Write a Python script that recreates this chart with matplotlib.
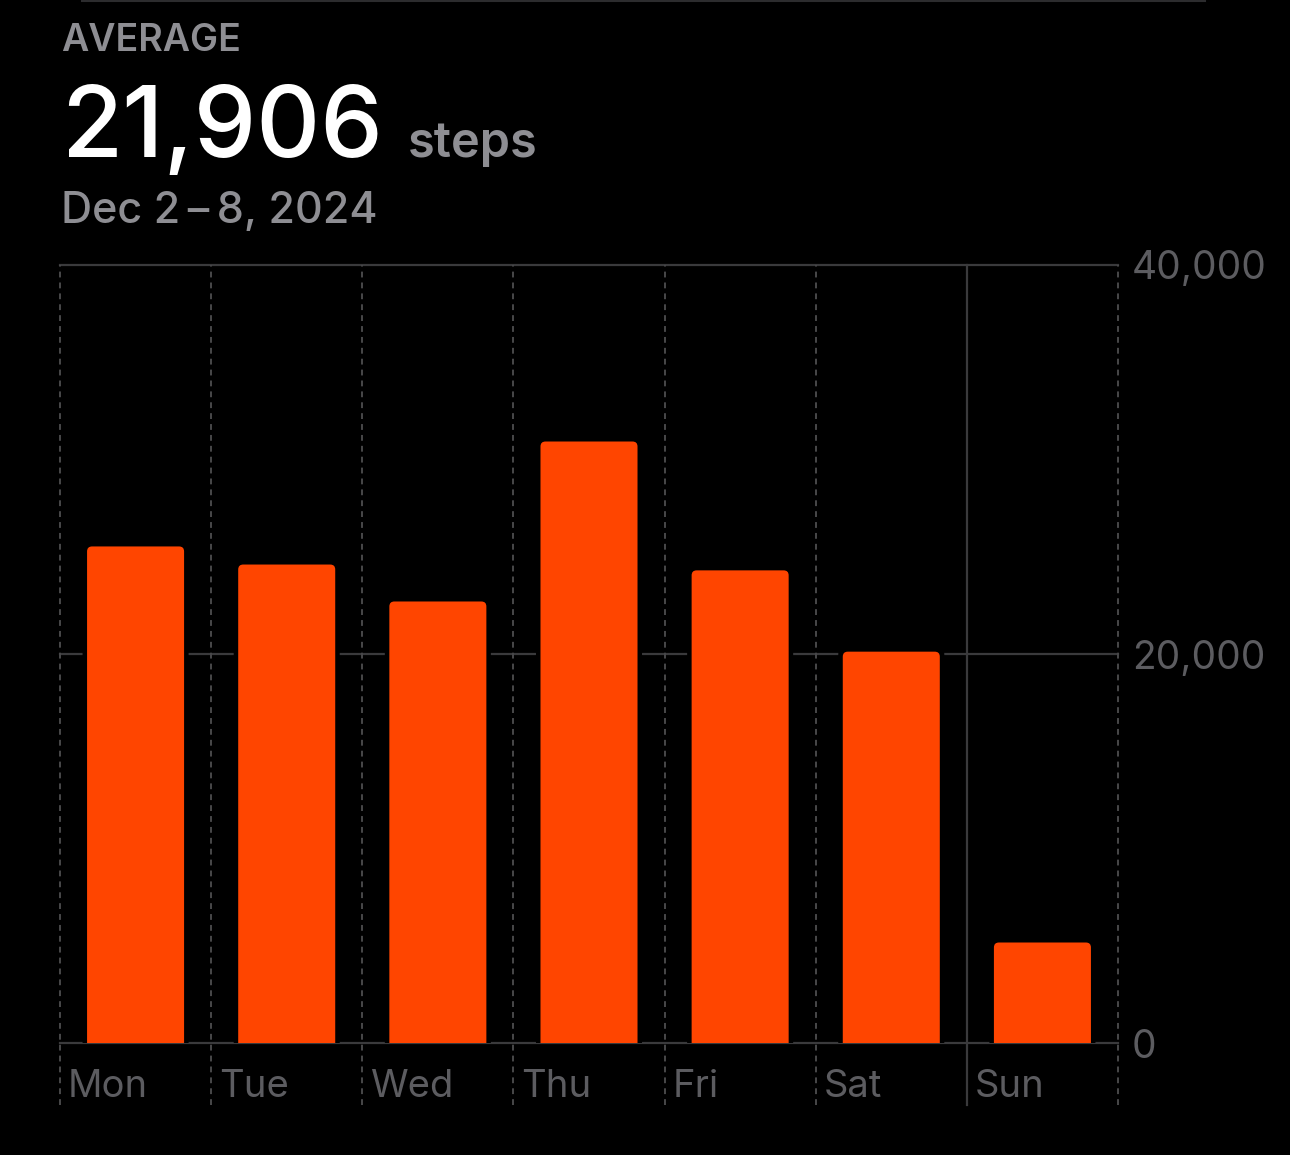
import matplotlib
matplotlib.use("Agg")
import matplotlib.pyplot as plt
from matplotlib.patches import FancyBboxPatch
from matplotlib.lines import Line2D

days = ["Mon", "Tue", "Wed", "Thu", "Fri", "Sat", "Sun"]
steps = [25530, 24600, 22700, 30925, 24300, 20120, 5167]
y_ticks = [0, 20000, 40000]
y_tick_labels = ["0", "20,000", "40,000"]
average_label = "21,906"
date_range = "Dec 2\u2009\u2013\u20098, 2024"

W, H = 1290, 1155
BAR_COLOR = "#FF4500"
GRID = "#3A3A3C"
DASH = "#48484A"
LABEL_GRAY = "#5C5C60"
HEAD_GRAY = "#8E8E93"

plt.rcParams["font.family"] = ["Inter", "DejaVu Sans"]

fig = plt.figure(figsize=(W / 100, H / 100), dpi=100, facecolor="black")

# plot area in pixel terms: x 60..1118, y 265..1043
ax_left, ax_right, ax_top, ax_bottom = 60, 1118, 265, 1043
ax = fig.add_axes([ax_left / W, 1 - ax_bottom / H,
                   (ax_right - ax_left) / W, (ax_bottom - ax_top) / H])
ax.set_facecolor("black")
ax.set_xlim(-0.5, len(days) - 0.5)
ax.set_ylim(0, 40000)
for s in ax.spines.values():
        s.set_visible(False)
ax.set_xticks([])

# horizontal grid
for t in y_ticks:
        ax.axhline(t, color=GRID, lw=1.6, zorder=1, clip_on=False)

# vertical column separators (dashed), solid one before Sunday
xt = ax.get_xaxis_transform()
below = -(1105 - ax_bottom) / (ax_bottom - ax_top)
for i in range(len(days) + 1):
        x = i - 0.5
        if i == 6:
                ax.add_line(Line2D([x, x], [below, 1], transform=xt, color=GRID,
                                   lw=1.6, clip_on=False, zorder=1.5))
        else:
                ax.add_line(Line2D([x, x], [below, 1], transform=xt, color=DASH,
                                   lw=1.4, ls=(0, (3.0, 2.6)), clip_on=False, zorder=1.5))

# bars with rounded tops and a black halo that cuts the grid lines
px_x = 1 / 151.1
px_y = 40000 / (ax_bottom - ax_top)
aspect = px_y / px_x
bar_w = 97 * px_x
halo = 4.5
for i, v in enumerate(steps):
        hw = bar_w + 2 * halo * px_x
        ax.add_patch(FancyBboxPatch((i - hw / 2, -400), hw, v + 400 + halo * px_y,
                                    boxstyle=f"round,pad=0,rounding_size={7 * px_x}",
                                    mutation_aspect=aspect, fc="black", ec="none",
                                    zorder=2, clip_on=True))
        ax.add_patch(FancyBboxPatch((i - bar_w / 2, -400), bar_w, v + 400,
                                    boxstyle=f"round,pad=0,rounding_size={5 * px_x}",
                                    mutation_aspect=aspect, fc=BAR_COLOR, ec="none",
                                    zorder=3, clip_on=True))

# y labels on the right
ax.yaxis.tick_right()
ax.set_yticks(y_ticks)
ax.set_yticklabels(y_tick_labels)
ax.tick_params(axis="y", length=0, pad=10, labelsize=28, labelcolor=LABEL_GRAY)

# day labels, left aligned in each column
lab_y = -(1097 - ax_bottom) / (ax_bottom - ax_top)
for i, d in enumerate(days):
        ax.text(i - 0.5 + 8 * px_x, lab_y, d, transform=xt, ha="left", va="baseline",
                fontsize=27.5, color=LABEL_GRAY)

# header text
def ftext(x, y, s, **kw):
        fig.text(x / W, 1 - y / H, s, ha="left", va="baseline", **kw)

ftext(61, 51, "AVERAGE", fontsize=27, color=HEAD_GRAY, fontweight="semibold")
ftext(61, 157, average_label, fontsize=71.5, color="white", fontweight="medium")
ftext(408, 157, "steps", fontsize=35, color=HEAD_GRAY, fontweight="semibold")
ftext(61, 223, date_range, fontsize=31, color=HEAD_GRAY, fontweight="medium")

# faint separator at the very top
fig.add_artist(Line2D([82 / W, 1205 / W], [1 - 1 / H, 1 - 1 / H], color="#2C2C2E", lw=1.5))

fig.savefig("out.png", dpi=100, facecolor="black")
